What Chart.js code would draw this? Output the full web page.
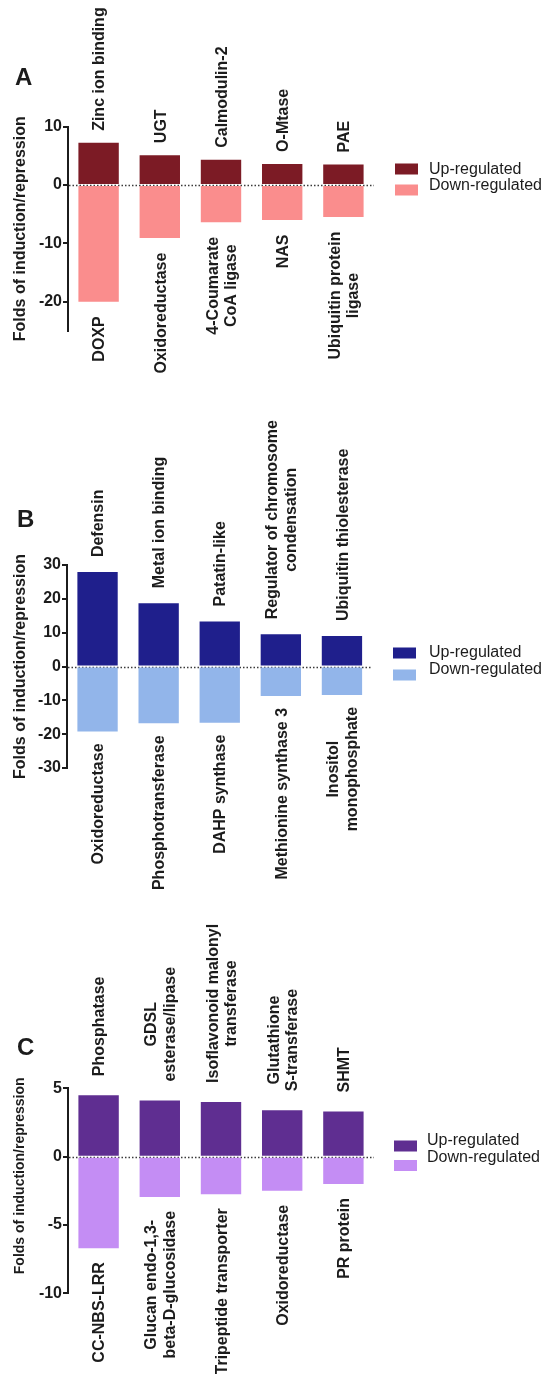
<!DOCTYPE html>
<html><head><meta charset="utf-8">
<script src="https://cdn.jsdelivr.net/npm/chart.js@4.4.1/dist/chart.umd.min.js"></script>
<style>
html,body{margin:0;padding:0;background:#fff;}
body{width:550px;height:1374px;position:relative;overflow:hidden;}
.panel{position:absolute;left:0;width:550px;}
canvas{display:block;}
</style></head><body>
<div class="panel" style="top:0px;height:460px"><canvas id="cA" width="550" height="460"></canvas></div>
<div class="panel" style="top:380px;height:520px"><canvas id="cB" width="550" height="520"></canvas></div>
<div class="panel" style="top:880px;height:494px"><canvas id="cC" width="550" height="494"></canvas></div>
<script>
// ---------- data ----------
const seriesNames = ['Up-regulated', 'Down-regulated'];
const yTitle = 'Folds of induction/repression';

// Panel A
const upLabelsA = ['Zinc ion binding', 'UGT', 'Calmodulin-2', 'O-Mtase', 'PAE'];
const downLabelsA = ['DOXP', 'Oxidoreductase', ['4-Coumarate', 'CoA ligase'], 'NAS', ['Ubiquitin protein', 'ligase']];
const upValuesA = [7.2, 5.1, 4.3, 3.6, 3.5];
const downValuesA = [-20.0, -9.1, -6.4, -6.0, -5.5];
const ticksA = [10, 0, -10, -20];

// Panel B
const upLabelsB = ['Defensin', 'Metal ion binding', 'Patatin-like', ['Regulator of chromosome', 'condensation'], 'Ubiquitin thiolesterase'];
const downLabelsB = ['Oxidoreductase', 'Phosphotransferase', 'DAHP synthase', 'Methionine synthase 3', ['Inositol', 'monophosphate']];
const upValuesB = [27.9, 18.7, 13.3, 9.5, 9.0];
const downValuesB = [-19.2, -16.8, -16.6, -8.7, -8.4];
const ticksB = [30, 20, 10, 0, -10, -20, -30];

// Panel C
const upLabelsC = ['Phosphatase', ['GDSL', 'esterase/lipase'], ['Isoflavonoid malonyl', 'transferase'], ['Glutathione', 'S-transferase'], 'SHMT'];
const downLabelsC = ['CC-NBS-LRR', ['Glucan endo-1,3-', 'beta-D-glucosidase'], 'Tripeptide transporter', 'Oxidoreductase', 'PR protein'];
const upValuesC = [4.5, 4.1, 4.0, 3.4, 3.3];
const downValuesC = [-6.7, -2.95, -2.75, -2.5, -2.0];
const ticksC = [5, 0, -5, -10];

// ---------- drawing ----------
const FONT = "'Liberation Sans', Arial, Helvetica, sans-serif";
const INK = '#1c1c1c';
Chart.defaults.font.family = FONT;

function makePanel(id, p) {
  const deco = {
    id: 'deco' + id,
    beforeDatasetsDraw(chart) {
      const {ctx, chartArea, scales} = chart;
      const y0 = Math.round(scales.y.getPixelForValue(0)) + 0.5;
      ctx.save();
      ctx.strokeStyle = '#3a3a3a';
      ctx.lineWidth = 1.5;
      ctx.setLineDash([1.5, 2]);
      ctx.beginPath();
      ctx.moveTo(chartArea.left + 1, y0);
      ctx.lineTo(chartArea.right, y0);
      ctx.stroke();
      ctx.restore();
    },
    afterDraw(chart) {
      const ctx = chart.ctx;
      const area = chart.chartArea;
      const upBars = chart.getDatasetMeta(0).data;
      const dnBars = chart.getDatasetMeta(1).data;
      ctx.save();
      ctx.fillStyle = INK;
      ctx.font = 'bold 16px ' + FONT;
      ctx.textBaseline = 'alphabetic';
      ctx.textAlign = 'center';
      const lh = 18.4;
      const drawLabel = (lab, x, y, dir) => {
        const lines = Array.isArray(lab) ? lab : [lab];
        const W = Math.max(...lines.map(s => ctx.measureText(s).width));
        ctx.save();
        ctx.translate(x, y);
        ctx.rotate(-Math.PI / 2);
        lines.forEach((s, i) => {
          const ly = (i - (lines.length - 1) / 2) * lh + 5.7;
          ctx.fillText(s, dir * W / 2, ly);
        });
        ctx.restore();
      };
      upBars.forEach((b, i) => drawLabel(p.upLabels[i], b.x, b.y - p.offUp, 1));
      dnBars.forEach((b, i) => drawLabel(p.downLabels[i], b.x, b.y + p.offDown, -1));

      // y axis title
      ctx.save();
      ctx.font = 'bold ' + p.titleSize + 'px ' + FONT;
      ctx.textAlign = 'center';
      ctx.translate(19.2 + 0.358 * p.titleSize, (area.top + area.bottom) / 2 + p.titleShift);
      ctx.rotate(-Math.PI / 2);
      ctx.fillText(yTitle, 0, 0);
      ctx.restore();

      // legend
      ctx.textAlign = 'left';
      ctx.font = '16px ' + FONT;
      chart.data.datasets.forEach((ds, i) => {
        ctx.fillStyle = ds.backgroundColor;
        ctx.fillRect(p.legend.boxX, p.legend.boxY[i] - 5.5, 23, 11);
        ctx.fillStyle = INK;
        ctx.fillText(ds.label, p.legend.textX, p.legend.textY[i] + 5.7);
      });

      // panel letter
      ctx.font = 'bold 24px ' + FONT;
      ctx.fillStyle = INK;
      ctx.fillText(p.letter, p.letterX, p.letterY);
      ctx.restore();
    }
  };

  return new Chart(document.getElementById(id), {
    type: 'bar',
    data: {
      labels: p.upLabels.map(l => Array.isArray(l) ? l.join(' ') : l),
      datasets: [
        {label: seriesNames[0], data: p.up, backgroundColor: p.colors[0], borderWidth: 0},
        {label: seriesNames[1], data: p.down, backgroundColor: p.colors[1], borderWidth: 0}
      ]
    },
    options: {
      responsive: false,
      animation: false,
      events: [],
      layout: {padding: p.padding},
      datasets: {bar: {barPercentage: 0.66, categoryPercentage: 1.0}},
      plugins: {legend: {display: false}, tooltip: {enabled: false}},
      scales: {
        x: {display: false, stacked: true},
        y: {
          stacked: true,
          min: p.min, max: p.max,
          afterBuildTicks: s => { s.ticks = p.ticks.map(v => ({value: v})); },
          afterFit: s => { s.width = p.axisWidth; },
          grid: {display: true, drawOnChartArea: false, drawTicks: true, tickLength: 5, tickWidth: 2, tickColor: INK, color: INK, lineWidth: 2},
          border: {display: true, color: INK, width: 2},
          ticks: {color: INK, padding: 1, font: {size: 16, weight: 'bold', family: FONT}},
          title: {display: false}
        }
      }
    },
    plugins: [deco]
  });
}

makePanel('cA', {
  upLabels: upLabelsA, downLabels: downLabelsA, up: upValuesA, down: downValuesA,
  ticks: ticksA, min: -25, max: 10,
  colors: ['#7c1b25', '#fa8d8d'],
  padding: {top: 126.5, bottom: 129, left: 0, right: 176},
  axisWidth: 68, offUp: 12, offDown: 14.5,
  titleSize: 16, titleShift: 0,
  legend: {boxX: 395, boxY: [169, 190], textX: 429, textY: [168.5, 184]},
  letter: 'A', letterX: 15, letterY: 85
});

makePanel('cB', {
  upLabels: upLabelsB, downLabels: downLabelsB, up: upValuesB, down: downValuesB,
  ticks: ticksB, min: -30, max: 30,
  colors: ['#1f1f8c', '#92b5ea'],
  padding: {top: 185, bottom: 132, left: 0, right: 177.5},
  axisWidth: 67, offUp: 15, offDown: 12,
  titleSize: 16, titleShift: 0,
  legend: {boxX: 393, boxY: [273, 295], textX: 429, textY: [271, 288]},
  letter: 'B', letterX: 17, letterY: 147
});

makePanel('cC', {
  upLabels: upLabelsC, downLabels: downLabelsC, up: upValuesC, down: downValuesC,
  ticks: ticksC, min: -10, max: 5,
  colors: ['#5f2e91', '#c48df4'],
  padding: {top: 208.3, bottom: 80.7, left: 0, right: 176},
  axisWidth: 68, offUp: 19, offDown: 14,
  titleSize: 14, titleShift: -15,
  legend: {boxX: 394, boxY: [266, 285.5], textX: 427, textY: [259, 276]},
  letter: 'C', letterX: 17, letterY: 175
});
</script>
</body></html>
